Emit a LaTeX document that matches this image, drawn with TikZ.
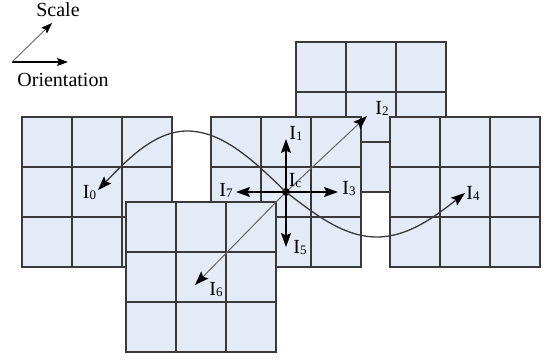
\documentclass[tikz,border=0pt]{standalone}
\usepackage{fontspec}
\setmainfont{Liberation Serif}
\usetikzlibrary{arrows.meta}
\definecolor{cellfill}{HTML}{E5EBF6}
\definecolor{gridcol}{HTML}{3A3A3A}
\definecolor{diagcol}{HTML}{666666}
\newcommand{\lbl}[1]{I\raisebox{-1pt}{\fontsize{13}{13}\selectfont #1}}
\newcommand{\cellgrid}[2]{%
  \fill[cellfill] (#1,#2) rectangle (#1+150,#2+150);
  \foreach \k in {50,100}{%
    \draw[gridln] (#1+\k,#2) -- (#1+\k,#2+150);
    \draw[gridln] (#1,#2+\k) -- (#1+150,#2+\k);}
  \draw[gridln] (#1,#2) rectangle (#1+150,#2+150);
}
\begin{document}
\begin{tikzpicture}[x=1pt,y=-1pt,
  gridln/.style={draw=gridcol,line width=1.3pt},
  txt/.style={font=\fontsize{20}{20}\selectfont,inner sep=0pt},
  crossarr/.style={draw=black,line width=1.5pt,-{Stealth[length=14pt,width=10pt,inset=2.5pt]}},
  diagarr/.style={draw=diagcol,line width=1pt,-{Stealth[length=14pt,width=10pt,inset=2.5pt,color=black]}},
  curvearr/.style={draw=gridcol,line width=1.3pt,-{Stealth[length=14pt,width=10pt,inset=2.5pt,color=black]}},
  legarr/.style={draw=black,line width=1.1pt,-{Stealth[length=11pt,width=8pt,inset=2pt]}},
  legdiag/.style={draw=diagcol,line width=0.9pt,-{Stealth[length=11pt,width=8pt,inset=2pt,color=black]}}]
\useasboundingbox (0,0) rectangle (547,359);
\fill[white] (0,0) rectangle (547,359);

% grids (back to front)
\cellgrid{22}{117}
\cellgrid{296}{42}
\cellgrid{211}{117}
\cellgrid{390}{117}
\cellgrid{126}{202}

% legend
\coordinate (o) at (12,62);
\coordinate (oh) at (68,62);
\coordinate (od) at (52,23);
\draw[legarr] (o) -- (oh);
\draw[legdiag] (o) -- (od);
\node[txt] (scale) at (58,10) {Scale};
\node[txt] (orient) at (63,80) {Orientation};

% centre
\node[circle,fill=black,inner sep=0pt,minimum size=8pt] (c) at (286,192) {};
\coordinate (t1) at (286,139);
\coordinate (t5) at (286,247);
\coordinate (t3) at (338,192);
\coordinate (t7) at (236,192);
\coordinate (t2) at (367,116);
\coordinate (t6) at (195,285);
\coordinate (t0) at (98,190);
\coordinate (t4) at (465,193);

% curves
\draw[curvearr] (c.center) .. controls (253.7,160.8) and (222.8,131) .. (187,131)
   .. controls (154.8,131) and (127,159.8) .. (t0);
\draw[curvearr] (c.center) .. controls (315.7,215) and (344.1,237) .. (377,237)
   .. controls (408.9,237) and (436.3,215.5) .. (t4);

\draw[diagarr] (c) -- (t2);
\draw[diagarr] (c) -- (t6);
\draw[crossarr] (c.center) -- (t1);
\draw[crossarr] (c.center) -- (t5);
\draw[crossarr] (c.center) -- (t3);
\draw[crossarr] (c.center) -- (t7);

% labels
\node[txt] (l0) at (89.5,193) {\lbl{0}};
\node[txt] (l1) at (296,133.5) {\lbl{1}};
\node[txt] (l2) at (382,108) {\lbl{2}};
\node[txt] (l3) at (349,188.5) {\lbl{3}};
\node[txt] (l4) at (473,193) {\lbl{4}};
\node[txt] (l5) at (300,247.5) {\lbl{5}};
\node[txt] (l6) at (216,290) {\lbl{6}};
\node[txt] (l7) at (226,190) {\lbl{7}};
\node[txt] (lc) at (295,181) {\lbl{c}};
\end{tikzpicture}
\end{document}
